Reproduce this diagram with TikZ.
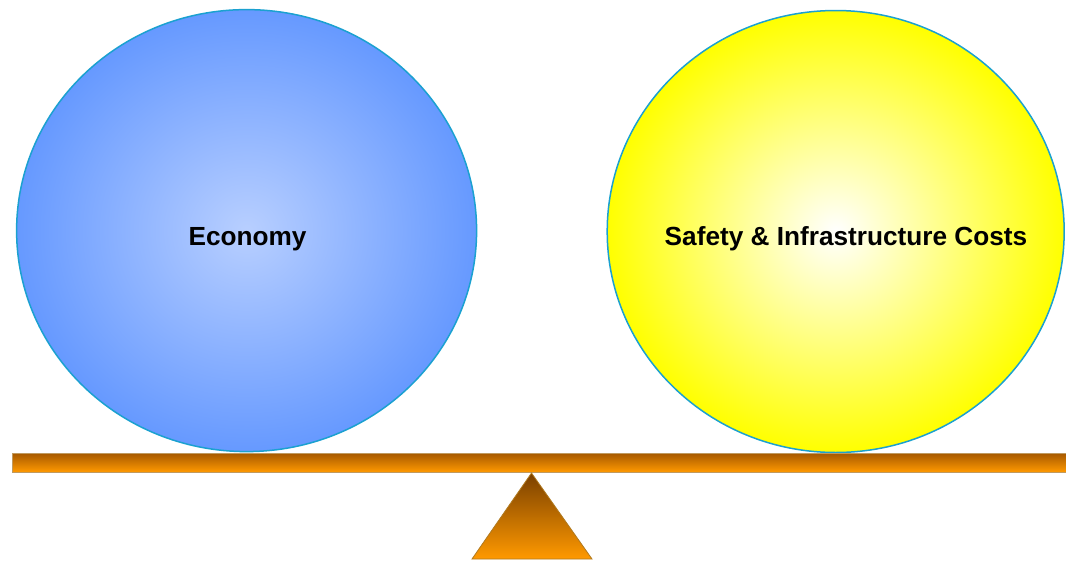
\documentclass[tikz,border=0pt]{standalone}
\usepackage{fontspec}
\setmainfont{Liberation Sans}
\usetikzlibrary{shapes.geometric}
\definecolor{rim}{HTML}{1BA1D0}
\definecolor{blueout}{HTML}{6699FF}
\definecolor{bluein}{HTML}{B8CFFF}
\definecolor{yelout}{HTML}{FFFF00}
\definecolor{yelin}{HTML}{FFFFFF}
\definecolor{beamtop}{HTML}{A85A00}
\definecolor{beambot}{HTML}{FF9900}
\definecolor{beamrim}{HTML}{C09A60}
\definecolor{tritop}{HTML}{7A4000}
\definecolor{tririm}{HTML}{B07A20}
\tikzset{
  ball/.style={ellipse, draw=rim, line width=1.5pt, minimum width=460pt, minimum height=442pt, inner sep=0pt},
  label/.style={font=\bfseries\fontsize{26.2}{31}\selectfont, text=black},
}
\begin{document}
\begin{tikzpicture}[x=1pt,y=-1pt]
\useasboundingbox (0,0) rectangle (1066,560);
\node[ball, inner color=bluein, outer color=blueout] (eco) at (246.6,230.6) {};
\node[label] (ecot) at (247.5,239) {Economy};
\node[ball, minimum width=457pt, inner color=yelin, outer color=yelout] (saf) at (835.7,231.5) {};
\node[label] (saft) at (846,239) {Safety \& Infrastructure Costs};
\shade[top color=beamtop, bottom color=beambot, draw=beamrim, line width=0.8pt] (12.5,453.5) rectangle (1070,472);
\coordinate (apex) at (531.5,473);
\shade[top color=tritop, bottom color=beambot, draw=tririm, line width=0.8pt] (apex) -- (592,559) -- (472,559) -- cycle;
\end{tikzpicture}
\end{document}
